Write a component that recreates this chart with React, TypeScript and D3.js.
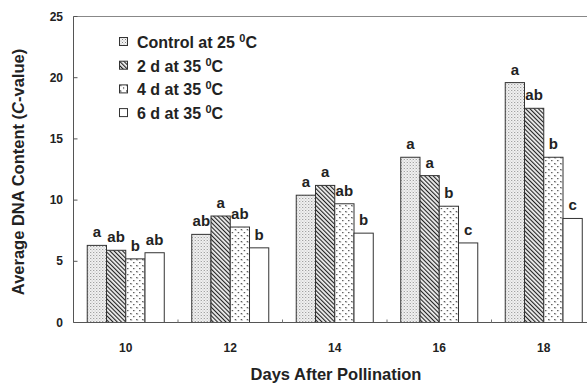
import React from 'react';
import * as d3 from 'd3';

const days = ['10', '12', '14', '16', '18'];
const seriesNames = ['Control at 25', '2 d at 35', '4 d at 35', '6 d at 35'];
const control = [6.3, 7.2, 10.4, 13.5, 19.6];
const twoDays = [5.9, 8.7, 11.2, 12.0, 17.5];
const fourDays = [5.2, 7.8, 9.7, 9.5, 13.5];
const sixDays = [5.7, 6.1, 7.3, 6.5, 8.5];
const letters = [
  ['a', 'ab', 'b', 'ab'],
  ['ab', 'a', 'ab', 'b'],
  ['a', 'a', 'ab', 'b'],
  ['a', 'a', 'b', 'c'],
  ['a', 'ab', 'b', 'c'],
];
const yTicks = [0, 5, 10, 15, 20, 25];

const fills = ['url(#pDots)', 'url(#pHatch)', 'url(#pSparse)', '#fff'];

const App = () => {
  const width = 587, height = 384;
  const left = 73.5, right = 596, top = 16.5, bottom = 322.5;
  const series = [control, twoDays, fourDays, sixDays];

  const x = d3.scaleBand().domain(days).range([left, right]).paddingInner(0.263).paddingOuter(0.1315);
  const xs = d3.scaleBand().domain(d3.range(4).map(String)).range([0, x.bandwidth()]);
  const y = d3.scaleLinear().domain([0, 25]).range([bottom, top]);
  const font = 'Arial, "Liberation Sans", Helvetica, sans-serif';

  return (
    <svg width={width} height={height} style={{ position: 'absolute', left: 0, top: 0, background: '#fff' }} fontFamily={font}>
      <defs>
        <pattern id="pDots" width="3" height="3" patternUnits="userSpaceOnUse">
          <rect width="3" height="3" fill="#f4f4f4" />
          <rect x="0" y="0" width="1" height="1" fill="#888" />
          <rect x="1.5" y="1.5" width="1" height="1" fill="#aaa" />
        </pattern>
        <pattern id="pHatch" width="3" height="3" patternUnits="userSpaceOnUse" patternTransform="rotate(-45)">
          <rect width="3" height="3" fill="#eee" />
          <rect x="0" y="0" width="1.1" height="3" fill="#222" />
        </pattern>
        <pattern id="pSparse" width="6" height="6" patternUnits="userSpaceOnUse">
          <rect width="6" height="6" fill="#fff" />
          <rect x="1" y="1" width="1.2" height="1.2" fill="#333" />
          <rect x="4" y="4" width="1.2" height="1.2" fill="#333" />
          <rect x="1.8" y="1.8" width="0.8" height="0.8" fill="#666" />
        </pattern>
      </defs>

      {/* frame */}
      <line x1={left} x2={width} y1={top} y2={top} stroke="#888" strokeWidth={1} />
      <line x1={left} x2={left} y1={top} y2={bottom} stroke="#555" strokeWidth={1} />

      {/* y ticks */}
      {yTicks.map(t => (
        <g key={t}>
          <line x1={left} x2={left + 4} y1={y(t)} y2={y(t)} stroke="#555" />
          <text x={63} y={y(t) + 4} textAnchor="end" fontSize={12} fontWeight="bold" fill="#222">{t}</text>
        </g>
      ))}

      {/* bars */}
      {days.map((d, i) => (
        <g key={d} transform={`translate(${x(d)},0)`}>
          {series.map((s, j) => (
            <g key={j}>
              <rect x={xs(String(j))} y={y(s[i])} width={xs.bandwidth()} height={bottom - y(s[i])}
                fill={fills[j]} stroke="#333" strokeWidth={1} />
              <text x={(xs(String(j)) as number) + xs.bandwidth() / 2} y={y(s[i]) - 8} textAnchor="middle"
                fontSize={15} fontWeight="bold" fill="#222">{letters[i][j]}</text>
            </g>
          ))}
        </g>
      ))}

      {/* x axis */}
      <line x1={left} x2={width} y1={bottom} y2={bottom} stroke="#555" strokeWidth={1} />
      {days.slice(1).map(d => {
        const bx = (x(d) as number) - x.step() * 0.263 / 2;
        return <line key={d} x1={bx} x2={bx} y1={bottom} y2={bottom - 3} stroke="#777" />;
      })}
      {days.map(d => (
        <text key={d} x={(x(d) as number) + x.bandwidth() / 2} y={352} textAnchor="middle" fontSize={12} fontWeight="bold" fill="#222">{d}</text>
      ))}

      {/* axis titles */}
      <text x={336} y={380} textAnchor="middle" fontSize={16.5} fontWeight="bold" fill="#222">Days After Pollination</text>
      <text transform="translate(24,172) rotate(-90)" textAnchor="middle" fontSize={16.5} fontWeight="bold" fill="#222">
        Average DNA Content (<tspan fontStyle="italic">C</tspan>-value)
      </text>

      {/* legend */}
      {seriesNames.map((n, j) => (
        <g key={n} transform={`translate(119,${42 + j * 23.7})`}>
          <rect x={0.5} y={-4.5} width={8} height={8} fill={fills[j]} stroke="#333" strokeWidth={1} />
          <text x={18} y={6} fontSize={16} fontWeight="bold" fill="#222">
            {n} <tspan dy={-6} fontSize={11}>0</tspan><tspan dy={6}>C</tspan>
          </text>
        </g>
      ))}
    </svg>
  );
};

export default App;
